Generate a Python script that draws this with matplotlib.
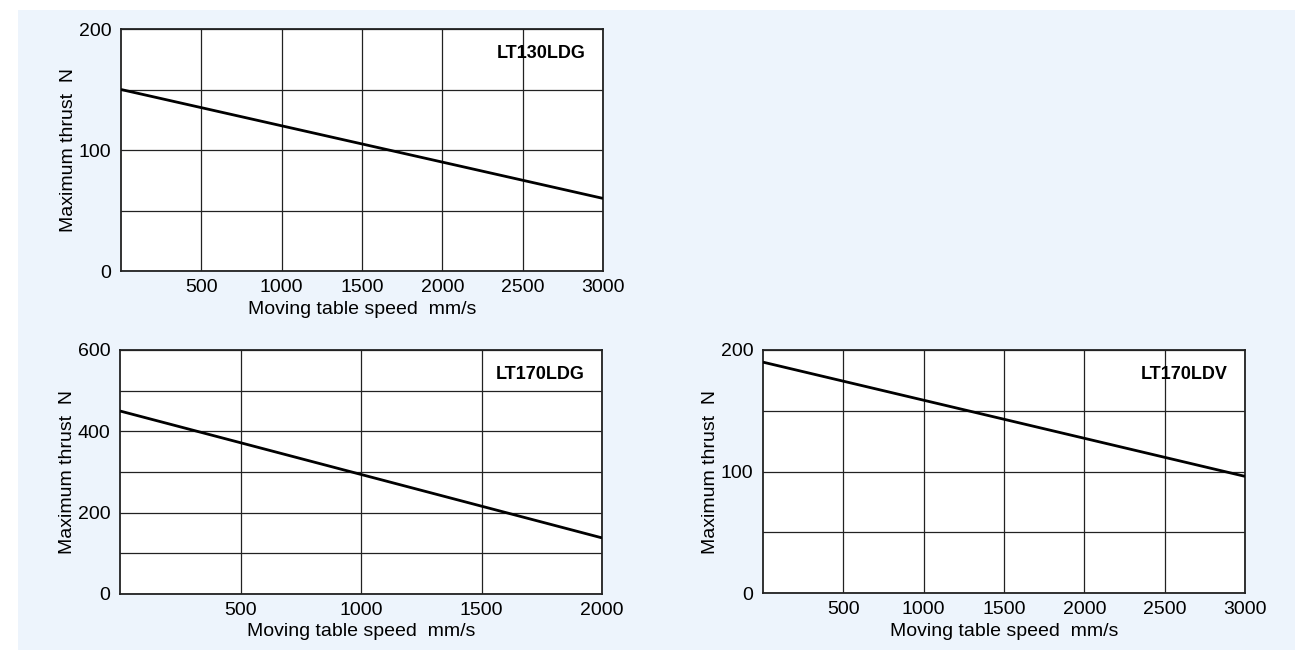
import matplotlib.pyplot as plt
from matplotlib.patches import Rectangle

plt.rcParams['font.family'] = ['Liberation Sans', 'DejaVu Sans']

# dados: velocidade (mm/s) x empuxo maximo (N)
lt130ldg_speed = [0, 3000]
lt130ldg_thrust = [150, 60]

lt170ldg_speed = [0, 2000]
lt170ldg_thrust = [450, 138]

lt170ldv_speed = [0, 3000]
lt170ldv_thrust = [190, 96]

fig = plt.figure(figsize=(12.95, 6.5), dpi=100)
fig.patch.set_facecolor('white')
fig.patches.append(Rectangle((18 / 1295, 0), 1 - 18 / 1295, 640 / 650,
                             transform=fig.transFigure, facecolor='#edf4fc',
                             edgecolor='none', zorder=-10))


def painel(rect, x, y, xmax, xticks, ymax, yticks, ygrid, nome):
    ax = fig.add_axes(rect)
    ax.set_facecolor('white')
    ax.plot(x, y, color='black', linewidth=2.0, solid_capstyle='butt', zorder=3)
    ax.set_xlim(0, xmax)
    ax.set_ylim(0, ymax)
    ax.set_xticks(xticks)
    ax.set_yticks(yticks)
    ax.set_yticks(ygrid, minor=True)
    ax.grid(True, which='both', color='#222222', linewidth=0.9)
    ax.tick_params(which='both', length=0, labelsize=14, colors='black')
    ax.tick_params(axis='x', pad=6)
    ax.tick_params(axis='y', pad=7)
    for s in ax.spines.values():
        s.set_linewidth(1.3)
        s.set_color('#222222')
    ax.set_xlabel('Moving table speed  mm/s', fontsize=14, labelpad=3)
    ax.set_ylabel('Maximum thrust  N', fontsize=14, labelpad=1)
    ax.text(0.963, 0.9, nome, transform=ax.transAxes, ha='right', va='center',
            fontsize=13, fontweight='bold', zorder=5)
    return ax


painel([121 / 1295, 379 / 650, 482 / 1295, 242 / 650],
       lt130ldg_speed, lt130ldg_thrust, 3000, [500, 1000, 1500, 2000, 2500, 3000],
       200, [0, 100, 200], [50, 150], 'LT130LDG')

painel([120 / 1295, 56 / 650, 482 / 1295, 244 / 650],
       lt170ldg_speed, lt170ldg_thrust, 2000, [500, 1000, 1500, 2000],
       600, [0, 200, 400, 600], [100, 300, 500], 'LT170LDG')

painel([763 / 1295, 57 / 650, 482 / 1295, 243 / 650],
       lt170ldv_speed, lt170ldv_thrust, 3000, [500, 1000, 1500, 2000, 2500, 3000],
       200, [0, 100, 200], [50, 150], 'LT170LDV')

fig.savefig('out.png', dpi=100)
